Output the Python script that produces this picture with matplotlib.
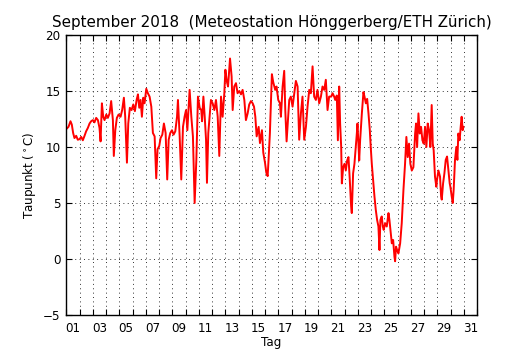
import numpy as np
import matplotlib
matplotlib.use("Agg")
import matplotlib.pyplot as plt
from matplotlib.ticker import FixedLocator, FixedFormatter, NullFormatter, MultipleLocator

# Dew point readings, September 2018 (time in fractional day of month)
day_a = [1.00, 1.17, 1.32, 1.42, 1.52, 1.62, 1.75, 1.87, 2.00, 2.13, 2.25, 2.38, 2.50,
         2.63, 2.76, 2.88, 3.01, 3.13, 3.26, 3.39, 3.51, 3.59, 3.69, 3.79, 3.89, 4.02,
         4.14, 4.27, 4.39, 4.52, 4.59, 4.70, 4.82, 4.95, 5.10, 5.22, 5.35, 5.45, 5.58,
         5.68, 5.80, 5.93, 6.06, 6.18, 6.31, 6.41, 6.51, 6.61, 6.71, 6.81, 6.91, 7.04,
         7.16, 7.29, 7.42, 7.54, 7.67, 7.79, 7.89, 8.02, 8.12, 8.25, 8.37, 8.50, 8.62,
         8.73, 8.85, 8.98, 9.10, 9.23, 9.36, 9.43, 9.56, 9.68, 9.81, 9.93, 10.04, 10.14,
         10.31, 10.44, 10.56, 10.69, 10.82, 10.94, 11.07, 11.19]
dew_a = [11.6, 11.8, 12.3, 12.0, 11.25, 10.8, 11.0, 10.65, 10.7, 10.9, 10.6, 11.0, 11.4,
         11.7, 12.1, 12.3, 12.4, 12.2, 12.6, 12.4, 11.7, 10.5, 13.9, 12.7, 12.4, 12.9,
         12.6, 13.0, 14.1, 12.4, 9.2, 11.5, 12.6, 12.9, 12.7, 13.3, 14.4, 12.7, 8.6,
         12.1, 13.5, 13.3, 13.8, 13.2, 14.2, 14.7, 13.5, 14.2, 12.7, 14.4, 13.9, 15.2,
         14.8, 14.5, 13.6, 11.25, 10.95, 7.2, 9.8, 10.1, 10.8, 11.1, 12.1, 11.25, 7.1,
         10.65, 11.25, 11.5, 11.1, 11.4, 12.7, 14.2, 10.95, 7.1, 11.8, 12.7, 13.3, 11.5,
         15.1, 12.7, 10.95, 5.0, 8.9, 14.5, 13.5, 13.3]

day_b = [11.25, 11.35, 11.45, 11.55, 11.62, 11.72, 11.82, 11.92, 12.05, 12.18, 12.30,
         12.43, 12.55, 12.68, 12.80, 12.93, 13.01, 13.11, 13.21, 13.36, 13.48, 13.56,
         13.68, 13.81, 13.93, 14.06, 14.19, 14.31, 14.44, 14.56, 14.69, 14.81, 14.94,
         15.07, 15.17, 15.27, 15.37, 15.52, 15.62, 15.77, 15.87, 16.00, 16.10, 16.20,
         16.27, 16.37, 16.52, 16.62, 16.77, 16.87, 17.00, 17.13, 17.20, 17.33, 17.45,
         17.53, 17.63, 17.70, 17.83, 17.95, 18.08, 18.21, 18.33, 18.46, 18.58, 18.71,
         18.83, 18.96, 19.09, 19.21, 19.34, 19.46, 19.59, 19.71, 19.84, 19.96, 20.09,
         20.22, 20.34, 20.47, 20.59, 20.72, 20.84, 21.00, 21.10, 21.22]
dew_b = [12.3, 14.5, 12.7, 10.65, 6.8, 11.25, 12.7, 14.2, 13.9, 13.3, 14.2,
         12.7, 9.2, 14.5, 12.7, 14.8, 16.9, 15.9, 15.4, 17.9, 16.3, 13.3,
         15.4, 15.7, 14.8, 15.0, 14.7, 15.1, 14.2, 12.4, 13.0, 13.8, 14.1,
         13.9, 13.6, 12.7, 10.95, 11.8, 10.35, 11.5, 9.5, 8.6, 7.7, 7.4,
         8.9, 11.25, 16.5, 15.8, 15.1, 15.4, 14.2, 13.9, 12.7, 15.4, 16.8,
         13.3, 10.5, 11.8, 14.2, 14.5, 13.6, 14.8, 15.9, 15.4, 10.65, 13.0,
         14.5, 10.65, 11.8, 13.6, 15.1, 14.8, 17.2, 14.5, 14.2, 15.1, 13.9,
         14.5, 15.4, 15.1, 16.0, 13.3, 14.5, 14.5, 14.8, 14.5]

day_c = [21.30, 21.42, 21.50, 21.60, 21.67, 21.75, 21.80, 21.90, 22.00, 22.10, 22.20,
         22.30, 22.40, 22.50, 22.55, 22.65, 22.75, 22.85, 22.93, 22.98, 23.06, 23.11,
         23.18, 23.31, 23.43, 23.51, 23.61, 23.71, 23.81, 23.91, 23.98, 24.06, 24.16,
         24.26, 24.36, 24.46, 24.56, 24.64, 24.71, 24.81, 24.89, 24.96, 25.07, 25.19,
         25.32, 25.39, 25.47, 25.57, 25.67, 25.77, 25.82, 25.89, 25.97, 26.07, 26.20,
         26.32, 26.45, 26.57, 26.67, 26.77, 26.87, 26.97, 27.08, 27.20, 27.33, 27.40,
         27.48, 27.58, 27.68, 27.78, 27.88, 27.98, 28.08, 28.18, 28.28, 28.38, 28.48,
         28.58, 28.66, 28.73, 28.83, 28.93, 28.98, 29.09, 29.21, 29.29, 29.34, 29.44,
         29.54, 29.64, 29.74, 29.84, 29.94, 29.99, 30.09, 30.17, 30.24, 30.34, 30.44,
         30.52, 30.59, 30.69, 30.77, 30.84, 30.92, 30.97]
dew_c = [14.2, 14.6, 10.6, 15.4, 12.1, 10.0, 6.75, 8.2, 8.5, 7.9, 8.8,
         9.1, 7.05, 4.7, 4.1, 7.65, 8.5, 10.0, 11.2, 12.1, 10.0, 8.8,
         10.6, 13.0, 14.9, 14.5, 13.9, 14.3, 13.0, 11.5, 10.0, 8.5, 7.05,
         5.6, 4.4, 3.5, 2.9, 0.8, 3.5, 3.8, 2.9, 2.6, 3.2, 2.9,
         4.1, 3.5, 2.6, 1.4, 1.7, 0.2, -0.2, 1.1, 0.8, 0.5, 1.4,
         3.2, 6.2, 8.5, 10.9, 9.1, 10.3, 8.5, 7.9, 8.2, 11.2, 12.1,
         10.0, 13.0, 11.2, 11.8, 10.6, 10.3, 11.8, 10.0, 12.1, 11.5, 10.0,
         13.75, 10.3, 9.7, 7.35, 6.45, 7.05, 7.9, 7.35, 5.6, 5.3, 6.75,
         7.65, 8.85, 9.15, 7.9, 6.75, 6.45, 5.6, 5.0, 6.2, 8.85, 10.0,
         8.85, 11.2, 10.6, 11.8, 12.7, 11.5, 11.8]

tick_days = list(range(1, 33))
label_days = [d + 0.5 for d in range(1, 32, 2)]
day_labels = ["%02d" % d for d in range(1, 32, 2)]

plt.rcParams.update({
    "font.family": "DejaVu Sans",
    "font.size": 8.6,
    "xtick.direction": "in",
    "ytick.direction": "in",
    "xtick.top": True,
    "ytick.right": True,
    "axes.linewidth": 1.0,
})

fig = plt.figure(figsize=(5.3, 3.5), dpi=100, facecolor="white")
ax = fig.add_axes([0.125, 0.1, 0.775, 0.8])

time = np.concatenate([day_a, day_b, day_c])
dew = np.concatenate([dew_a, dew_b, dew_c])
ax.plot(time, dew, color="red", linewidth=1.4)

ax.set_xlim(1, 32)
ax.set_ylim(-5, 20)

ax.xaxis.set_major_locator(FixedLocator(tick_days))
ax.xaxis.set_major_formatter(NullFormatter())
ax.xaxis.set_minor_locator(FixedLocator(label_days))
ax.xaxis.set_minor_formatter(FixedFormatter(day_labels))
ax.tick_params(axis="x", which="major", length=4, width=0.8)
ax.tick_params(axis="x", which="minor", length=0, pad=5)
ax.yaxis.set_major_locator(MultipleLocator(5))
ax.tick_params(axis="y", which="major", length=4, width=0.8, pad=4)

ax.grid(True, which="major", linestyle=(0, (1, 3.5)), color="#333333", linewidth=0.7)

ax.set_title("September 2018  (Meteostation Hönggerberg/ETH Zürich)", fontsize=10.9, pad=6)
ax.set_xlabel("Tag", labelpad=1)
ax.set_ylabel(r"Taupunkt ($^\circ$C)")

fig.savefig("out.png", dpi=100, facecolor="white")
